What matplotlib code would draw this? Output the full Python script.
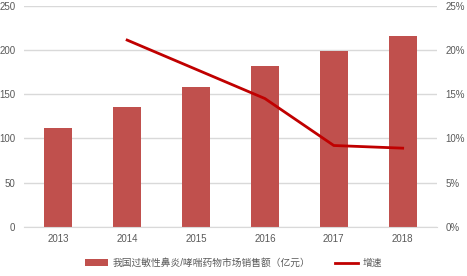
import matplotlib
matplotlib.use("Agg")
import matplotlib.pyplot as plt
from matplotlib.ticker import FuncFormatter

plt.rcParams['font.family'] = ['Liberation Sans', 'Noto Sans CJK SC', 'DejaVu Sans']

years = ['2013', '2014', '2015', '2016', '2017', '2018']
sales = [112, 136, 158, 182, 199, 216]
growth_years = ['2014', '2015', '2016', '2017', '2018']
growth = [21.1, 17.8, 14.5, 9.2, 8.9]

bar_color = '#C0504D'
line_color = '#C00000'
grid_color = '#D9D9D9'
text_color = '#595959'

fig = plt.figure(figsize=(4.67, 2.76), dpi=100)
ax = fig.add_axes([0.051, 0.1775, 0.885, 0.8025])
x = list(range(len(years)))
bars = ax.bar(x, sales, width=0.41, color=bar_color, zorder=2)
ax.set_xlim(-0.5, len(years) - 0.5)
ax.set_ylim(0, 250)
ax.set_yticks([0, 50, 100, 150, 200, 250])
ax.set_xticks(x)
ax.set_xticklabels(years)
ax.grid(axis='y', color=grid_color, linewidth=1, zorder=0)
for s in ['top', 'left', 'right']:
    ax.spines[s].set_visible(False)
ax.spines['bottom'].set_color(grid_color)
ax.tick_params(axis='both', length=0, labelsize=7, colors=text_color)
ax.tick_params(axis='y', pad=6)
ax.tick_params(axis='x', pad=5)

ax2 = ax.twinx()
gx = [years.index(y) for y in growth_years]
line, = ax2.plot(gx, growth, color=line_color, linewidth=2, zorder=3)
ax2.set_ylim(0, 25)
ax2.set_yticks([0, 5, 10, 15, 20, 25])
ax2.yaxis.set_major_formatter(FuncFormatter(lambda v, p: f'{int(v)}%'))
for s in ['top', 'left', 'right', 'bottom']:
    ax2.spines[s].set_visible(False)
ax2.tick_params(axis='y', length=0, labelsize=7, colors=text_color, pad=6)

fig.legend([bars, line], ['我国过敏性鼻炎/哮喘药物市场销售额（亿元）', '增速'],
           loc='center', bbox_to_anchor=(0.5, 0.047), ncol=2, frameon=False,
           fontsize=7, labelcolor=text_color, handlelength=2.4, handleheight=0.7,
           columnspacing=2.5, handletextpad=0.5)

fig.savefig('out.png', dpi=100)
